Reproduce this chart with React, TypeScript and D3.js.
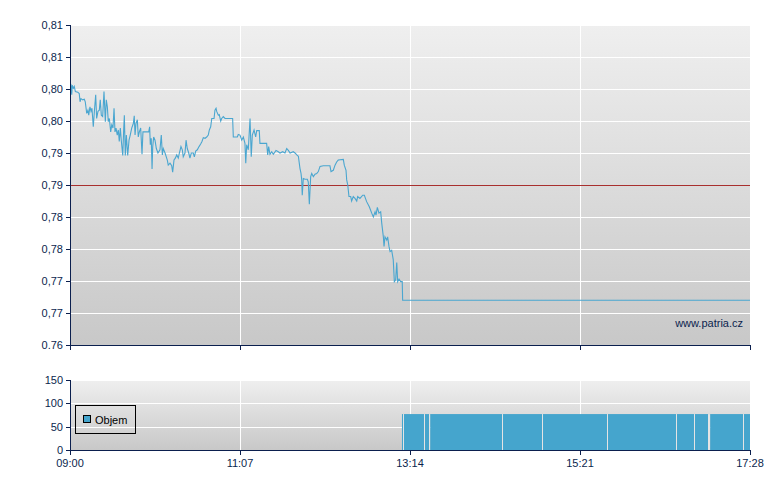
import React from "react";
import * as d3 from "d3";

// minutes after 09:00
const priceTimes = [
  0, 0.7, 1.3, 1.7, 2.5, 3.2, 4.0, 5.8, 6.9, 7.5, 8.2, 9.5, 10.7, 11.4, 12.5, 13.4, 14.0, 14.9, 15.7, 16.4,
  17.4, 18.2, 19.2, 19.9, 20.9, 21.9, 22.6, 23.4, 24.4, 25.4, 26.4, 27.1, 27.9, 28.6, 29.4, 30.4, 31.2, 32.1,
  32.9, 33.6, 34.4, 35.3, 36.1, 36.8, 37.6, 38.3, 39.4, 40.1, 40.6, 41.3, 42.1, 43.1, 44.1, 45.0, 46.1, 47.3,
  48.0, 48.6, 49.3, 50.3, 51.0, 51.8, 52.8, 53.8, 54.5, 55.8, 58.8, 59.5, 60.0, 60.7, 61.3, 61.8, 62.5, 63.5,
  64.5, 65.7, 67.2, 68.2, 69.0, 69.7, 71.0, 72.7, 73.4, 74.7, 76.0, 76.7, 77.7, 78.7, 79.7, 80.9, 81.7, 82.9,
  83.9, 84.6, 85.9, 86.7, 87.6, 88.7, 89.6, 90.6, 92.1, 92.9, 93.9, 95.1, 96.4, 97.6, 98.6, 99.6, 100.9, 102.1,
  103.3, 104.1, 105.1, 105.9, 107.6, 108.3, 109.1, 109.6, 110.8, 111.5, 112.6, 113.3, 114.5, 115.8, 121.5,
  122.0, 125.0, 125.7, 127.0, 128.3, 129.5, 130.7, 131.3, 132.0, 133.2, 134.5, 135.4, 136.2, 137.5, 138.7,
  139.5, 141.4, 141.9, 146.9, 147.7, 148.4, 149.4, 150.7, 151.9, 153.9, 155.6, 156.9, 158.9, 160.6, 161.9,
  163.1, 164.4, 166.8, 168.1, 169.4, 170.6, 171.8, 172.6, 173.1, 173.5, 174.3, 175.6, 177.3, 178.0, 178.8,
  179.8, 180.6, 181.8, 183.0, 184.3, 185.5, 186.8, 189.2, 194.2, 195.0, 196.7, 198.0, 199.2, 200.4, 204.2,
  204.9, 206.2, 206.7, 207.5, 208.4, 209.7, 210.4, 211.6, 212.9, 214.2, 214.9, 216.6, 218.7, 219.9, 221.6,
  223.6, 225.4, 226.6, 227.9, 228.6, 229.6, 230.8, 232.1, 232.9, 234.1, 234.6, 235.3, 236.6, 237.3, 238.3,
  239.1, 240.3, 241.5, 242.3, 243.3, 244.1, 244.8, 245.8, 247.0, 248.2, 248.5, 508,
];
const priceValues = [
  0.8009, 0.8007, 0.7991, 0.8006, 0.8001, 0.8004, 0.7996, 0.7995, 0.7993, 0.798, 0.7985, 0.7983, 0.7984, 0.798,
  0.7962, 0.7967, 0.7959, 0.7972, 0.7965, 0.797, 0.7941, 0.7965, 0.7991, 0.7954, 0.7965, 0.7967, 0.7983, 0.7959,
  0.7957, 0.7996, 0.7949, 0.7983, 0.7972, 0.7949, 0.7954, 0.7933, 0.7944, 0.7939, 0.797, 0.7933, 0.7939, 0.7928,
  0.7936, 0.7918, 0.7939, 0.792, 0.7896, 0.7936, 0.7959, 0.7896, 0.7928, 0.7896, 0.792, 0.7928, 0.7939, 0.7946,
  0.7958, 0.7928, 0.7946, 0.7952, 0.7925, 0.7933, 0.7939, 0.7898, 0.7933, 0.7933, 0.7933, 0.7941, 0.7913, 0.7923,
  0.7875, 0.791, 0.7925, 0.792, 0.7907, 0.79, 0.7905, 0.7928, 0.7897, 0.7907, 0.79, 0.7889, 0.7881, 0.7884,
  0.788, 0.787, 0.7889, 0.7892, 0.7897, 0.7892, 0.79, 0.791, 0.7905, 0.7894, 0.79, 0.792, 0.7907, 0.79, 0.7892,
  0.79, 0.79, 0.7894, 0.7903, 0.7905, 0.791, 0.7914, 0.7918, 0.7924, 0.7923, 0.7925, 0.7928, 0.7936, 0.7941,
  0.7954, 0.7954, 0.7967, 0.797, 0.7965, 0.7959, 0.796, 0.795, 0.7954, 0.7957, 0.7954, 0.7954, 0.7925, 0.7925,
  0.7929, 0.7928, 0.792, 0.7925, 0.7915, 0.7884, 0.7913, 0.7905, 0.7954, 0.7894, 0.7928, 0.7936, 0.7925, 0.7935,
  0.7935, 0.7915, 0.7915, 0.7897, 0.791, 0.7898, 0.7902, 0.7898, 0.7904, 0.7902, 0.79, 0.7902, 0.79, 0.7907,
  0.7904, 0.79, 0.7902, 0.79, 0.7897, 0.7895, 0.7876, 0.7868, 0.7858, 0.7834, 0.786, 0.7859, 0.7859, 0.7855,
  0.782, 0.7863, 0.7868, 0.7863, 0.7867, 0.7868, 0.7871, 0.7879, 0.788, 0.788, 0.7871, 0.7873, 0.7881, 0.7886,
  0.7889, 0.789, 0.7881, 0.7873, 0.7858, 0.785, 0.7832, 0.7832, 0.7825, 0.7832, 0.7829, 0.7825, 0.7832, 0.7829,
  0.7834, 0.7834, 0.7824, 0.7816, 0.7806, 0.78, 0.7808, 0.7803, 0.7815, 0.7806, 0.7808, 0.779, 0.7769, 0.7754,
  0.7769, 0.7764, 0.7769, 0.7754, 0.7746, 0.7748, 0.7733, 0.7699, 0.7702, 0.7729, 0.7699, 0.7703, 0.7699, 0.7699,
  0.767, 0.767,
];
const referencePrice = 0.785;

const volumeTimes = [248.0, 249.3, 265.2, 269.2, 323.3, 353.1, 401.7, 453.2, 466.7, 477.1, 478.3, 503.3];
const volumeValues = [77, 77, 77, 77, 77, 77, 77, 77, 77, 77, 77, 77];
const sessionEnd = 508;

const priceTicks = [0.76, 0.765, 0.77, 0.775, 0.78, 0.785, 0.79, 0.795, 0.8, 0.805, 0.81];
const priceTickLabels = ["0.76", "0,77", "0,77", "0,78", "0,78", "0,79", "0,79", "0,80", "0,80", "0,81", "0,81"];
const volumeTicks = [0, 50, 100, 150];
const timeTicks = [0, 127, 254, 381, 508];
const timeTickLabels = ["09:00", "11:07", "13:14", "15:21", "17:28"];

const NAVY = "#0b1f4e";
const LINE = "#4aa6d0";
const BAR = "#45a5cd";
const FONT = "'Liberation Sans', Arial, sans-serif";

export default function App() {
  const L = 70, R = 750;
  const mT = 25, mB = 345;
  const vT = 380, vB = 450;
  const x = d3.scaleLinear().domain([0, sessionEnd]).range([L, R]);
  const y = d3.scaleLinear().domain([0.76, 0.81]).range([mB, mT]);
  const yv = d3.scaleLinear().domain([0, 150]).range([vB, vT]);

  const pts: [number, number][] = priceTimes.map((t, i) => [t, priceValues[i]]);
  const line = d3.line<[number, number]>().x((d) => x(d[0])).y((d) => y(d[1]))(pts) || "";

  return (
    <svg width={780} height={490} style={{ position: "absolute", left: 0, top: 0, fontFamily: FONT }}>
      <defs>
        <linearGradient id="gMain" x1="0" y1="0" x2="0" y2="1">
          <stop offset="0" stopColor="#efefef" />
          <stop offset="1" stopColor="#c8c8c8" />
        </linearGradient>
        <linearGradient id="gVol" x1="0" y1="0" x2="0" y2="1">
          <stop offset="0" stopColor="#efefef" />
          <stop offset="1" stopColor="#c8c8c8" />
        </linearGradient>
        <clipPath id="cMain">
          <rect x={L} y={mT} width={R - L} height={mB - mT} />
        </clipPath>
      </defs>
      <rect x={0} y={0} width={780} height={490} fill="#ffffff" />

      {/* main panel */}
      <rect x={L} y={mT} width={R - L} height={mB - mT} fill="url(#gMain)" />
      {priceTicks.map((v, i) => (
        <line key={"hg" + i} x1={L} x2={R} y1={Math.round(y(v)) + 0.5} y2={Math.round(y(v)) + 0.5} stroke="#ffffff" strokeWidth={1} />
      ))}
      {timeTicks.slice(1, -1).map((t, i) => (
        <line key={"vg" + i} x1={Math.round(x(t)) + 0.5} x2={Math.round(x(t)) + 0.5} y1={mT} y2={mB} stroke="#ffffff" strokeWidth={1} />
      ))}
      <line x1={L} x2={R} y1={Math.round(y(referencePrice)) + 0.5} y2={Math.round(y(referencePrice)) + 0.5} stroke="#a8302f" strokeWidth={1} />
      <path d={line} fill="none" stroke={LINE} strokeWidth={1.1} clipPath="url(#cMain)" strokeLinejoin="miter" />
      <text x={743} y={327} fontSize={11} fill={NAVY} textAnchor="end">www.patria.cz</text>

      {/* main axes */}
      <line x1={L + 0.5} x2={L + 0.5} y1={mT} y2={mB + 4} stroke={NAVY} />
      <line x1={L} x2={R + 1} y1={mB + 0.5} y2={mB + 0.5} stroke={NAVY} />
      {priceTicks.map((v, i) => (
        <g key={"pt" + i}>
          <line x1={L - 4} x2={L} y1={Math.round(y(v)) + 0.5} y2={Math.round(y(v)) + 0.5} stroke={NAVY} />
          <text x={L - 7} y={y(v) + 4} fontSize={11} fill={NAVY} textAnchor="end">{priceTickLabels[i]}</text>
        </g>
      ))}
      {timeTicks.map((t, i) => (
        <line key={"mt" + i} x1={Math.round(x(t)) + 0.5} x2={Math.round(x(t)) + 0.5} y1={mB} y2={mB + 5} stroke={NAVY} />
      ))}

      {/* volume panel */}
      <rect x={L} y={vT} width={R - L} height={vB - vT} fill="url(#gVol)" />
      {volumeTicks.map((v, i) => (
        <line key={"vh" + i} x1={L} x2={R} y1={Math.round(yv(v)) + 0.5} y2={Math.round(yv(v)) + 0.5} stroke="#ffffff" />
      ))}
      {timeTicks.slice(1, -1).map((t, i) => (
        <line key={"vv" + i} x1={Math.round(x(t)) + 0.5} x2={Math.round(x(t)) + 0.5} y1={vT} y2={vB} stroke="#ffffff" />
      ))}
      {volumeTimes.map((t, i) => {
        const x0 = x(t);
        const x1 = i + 1 < volumeTimes.length ? x(volumeTimes[i + 1]) : x(sessionEnd);
        return (
          <rect key={"vb" + i} x={x0} y={yv(volumeValues[i])} width={x1 - x0} height={vB - yv(volumeValues[i])} fill={BAR} />
        );
      })}
      {volumeTimes.slice(1).map((t, i) => (
        <line key={"gap" + i} x1={Math.round(x(t)) - 0.5} x2={Math.round(x(t)) - 0.5} y1={yv(volumeValues[i + 1])} y2={vB} stroke="#e4e4e4" strokeWidth={1} />
      ))}
      {/* legend */}
      <rect x={75.5} y={405.5} width={60} height={28} fill="none" stroke="#000000" />
      <rect x={83.5} y={415.5} width={7} height={7} fill={BAR} stroke="#000000" />
      <text x={95} y={424} fontSize={11} fill="#000000">Objem</text>

      {/* volume axes */}
      <line x1={L + 0.5} x2={L + 0.5} y1={vT} y2={vB + 4} stroke={NAVY} />
      <line x1={L} x2={R + 1} y1={vB + 0.5} y2={vB + 0.5} stroke={NAVY} />
      {volumeTicks.map((v, i) => (
        <g key={"vt" + i}>
          <line x1={L - 4} x2={L} y1={Math.round(yv(v)) + 0.5} y2={Math.round(yv(v)) + 0.5} stroke={NAVY} />
          <text x={L - 7} y={yv(v) + 4} fontSize={11} fill={NAVY} textAnchor="end">{v}</text>
        </g>
      ))}
      {timeTicks.map((t, i) => (
        <g key={"tt" + i}>
          <line x1={Math.round(x(t)) + 0.5} x2={Math.round(x(t)) + 0.5} y1={vB} y2={vB + 5} stroke={NAVY} />
          <text x={x(t)} y={467} fontSize={11} fill={NAVY} textAnchor="middle">{timeTickLabels[i]}</text>
        </g>
      ))}
    </svg>
  );
}
